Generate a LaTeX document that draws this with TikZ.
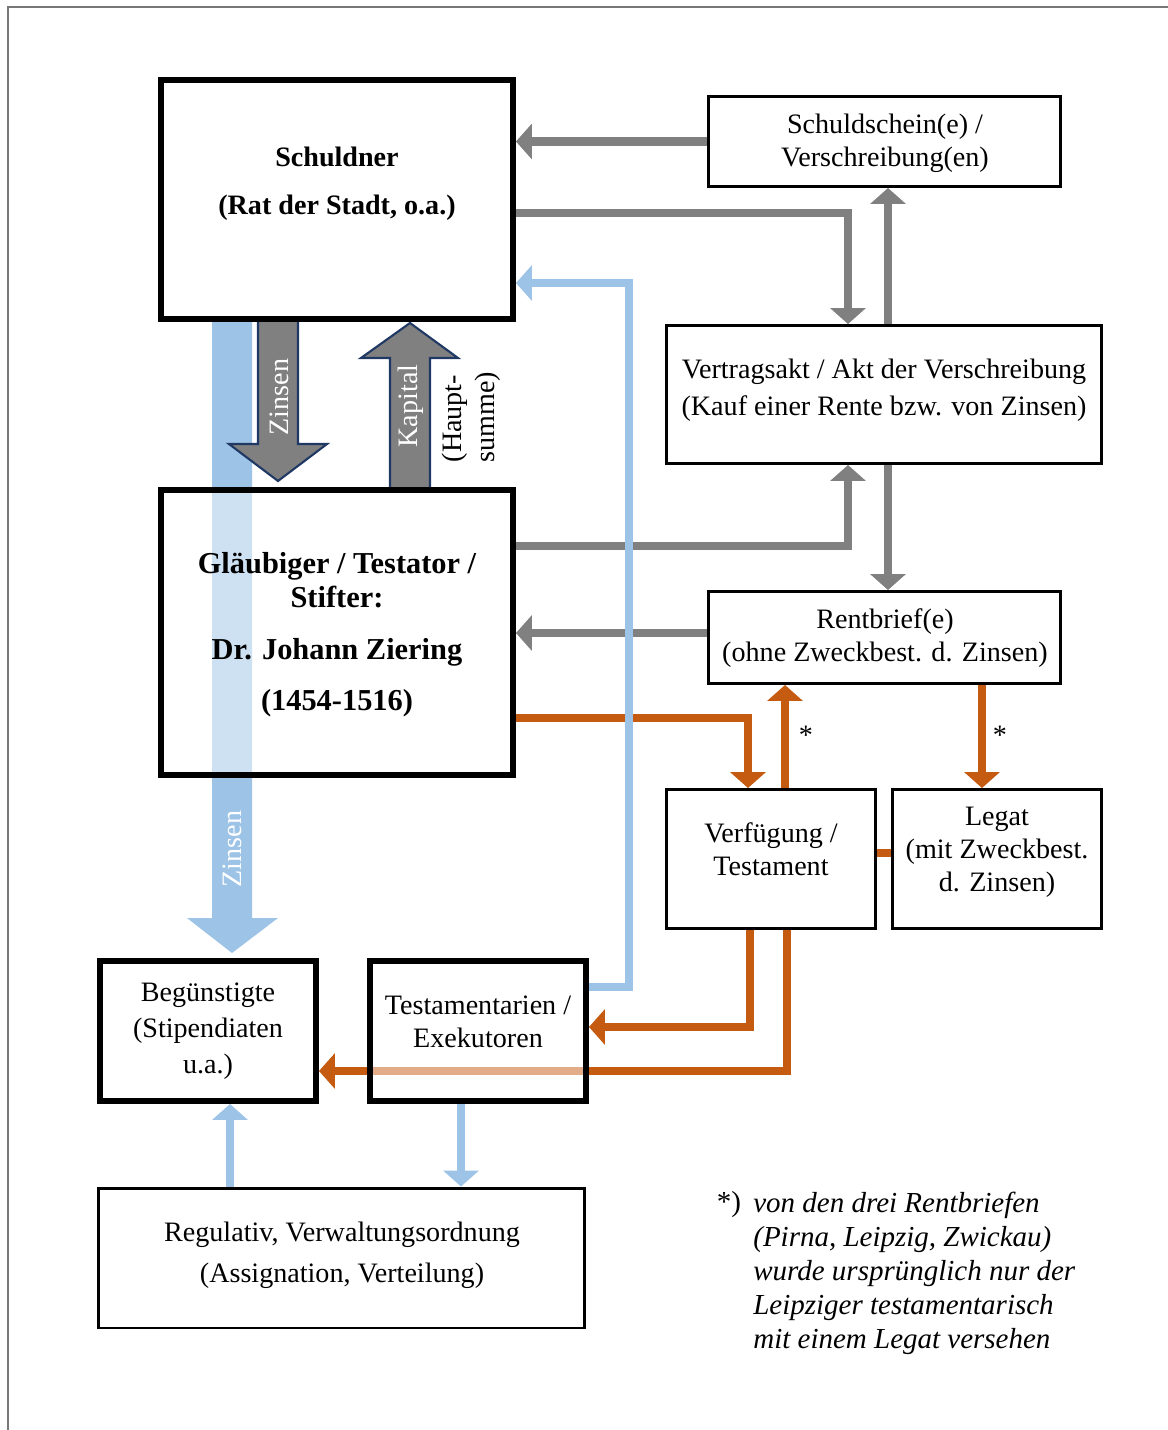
\documentclass[tikz,border=0pt]{standalone}
\usepackage{fontspec}
\setmainfont{Liberation Serif}
\usepackage{tikz}
\usetikzlibrary{arrows.meta}
\usetikzlibrary{backgrounds}
\definecolor{flowgray}{RGB}{128,128,128}
\definecolor{flowblue}{RGB}{157,195,230}
\definecolor{floworange}{RGB}{197,90,17}
\definecolor{navy}{RGB}{31,56,100}
\definecolor{framegray}{RGB}{120,120,120}
\tikzset{box/.style = {draw, line width=1.7pt, inner sep=0, fill=white, fill opacity=0.5}}
\tikzset{bigbox/.style = {box, line width=3.4pt}}
\tikzset{txt/.style = {align=center, inner sep=0, font=\fontsize{16}{18.7}\selectfont}}
\tikzset{flow/.style = {line width=5.1pt, -{Triangle[width=0.7cm, length=0.32cm]}}}
\tikzset{grayflow/.style = {flow, flowgray}}
\tikzset{orangeflow/.style = {flow, floworange}}
\tikzset{blueflow/.style = {flow, flowblue}}
\tikzset{bigarrow/.style = {fill=flowgray, draw=navy, line width=1.2pt}}

\begin{document}
\begin{tikzpicture}[x=0.02cm, y=-0.02cm]
    \useasboundingbox (0, 0) rectangle (1168, 1430);
    \draw [framegray, line width=0.9pt] (8, 1430) -- (8, 7) -- (1168, 7);

    \node [bigbox, minimum width=7.04cm, minimum height=4.78cm] (schuldner) at (337, 199.5) {};
    \node [box, minimum width=7.04cm, minimum height=1.8cm] (schein) at (884.5, 141.5) {};
    \node [box, minimum width=8.7cm, minimum height=2.76cm] (vertrag) at (884, 394.5) {};
    \node [bigbox, minimum width=7.04cm, minimum height=5.7cm] (glaeubiger) at (337, 632.5) {};
    \node [box, minimum width=7.04cm, minimum height=1.84cm] (rentbrief) at (884.5, 637.5) {};
    \node [box, minimum width=4.18cm, minimum height=2.78cm] (verfuegung) at (771, 859) {};
    \node [box, minimum width=4.18cm, minimum height=2.78cm] (legat) at (997, 859) {};
    \node [bigbox, minimum width=4.32cm, minimum height=2.8cm] (beguenstigte) at (208, 1031) {};
    \node [bigbox, minimum width=4.32cm, minimum height=2.8cm] (testament) at (478, 1031) {};
    \node [box, minimum width=9.72cm, minimum height=2.8cm] (regulativ) at (341.5, 1258) {};

    \node [txt, font=\bfseries\fontsize{16}{27.2}\selectfont] (schuldner-t) at (337, 184) {Schuldner\\(Rat der Stadt, o.a.)};
    \node [txt] (schein-t) at (885, 143) {Schuldschein(e) /\\Verschreibung(en)};
    \node [txt, font=\fontsize{16}{21}\selectfont] (vertrag-t) at (884, 390.5) {Vertragsakt / Akt der Verschreibung\\(Kauf einer Rente bzw. von Zinsen)};
    \node [txt, font=\bfseries\fontsize{17.3}{19.9}\selectfont] (glaeubiger-t) at (337, 634.5) {Gläubiger / Testator /\\Stifter:\\[9.6pt]Dr. Johann Ziering\\[9pt](1454-1516)};
    \node [txt] (rentbrief-t) at (885, 638) {Rentbrief(e)\\(ohne Zweckbest. d. Zinsen)};
    \node [txt] (verfuegung-t) at (771, 849.5) {Verfügung /\\Testament};
    \node [txt] (legat-t) at (997, 852.5) {Legat\\(mit Zweckbest.\\d. Zinsen)};
    \node [txt, font=\fontsize{16}{20.5}\selectfont] (beguenstigte-t) at (208, 1031) {Begünstigte\\(Stipendiaten\\u.a.)};
    \node [txt] (testament-t) at (478, 1022) {Testamentarien /\\Exekutoren};
    \node [txt, font=\fontsize{16}{23.3}\selectfont] (regulativ-t) at (342, 1255.5) {Regulativ, Verwaltungsordnung\\(Assignation, Verteilung)};

    \begin{scope}[on background layer]
        \fill [flowblue] (212, 322) -- (252, 322) -- (252, 918) -- (278, 918) -- (232, 953) -- (187, 918) -- (212, 918) -- cycle;
        \draw [bigarrow] (258, 320) -- (298, 320) -- (298, 444) -- (327, 444) -- (278, 481) -- (229, 444) -- (258, 444) -- cycle;
        \draw [bigarrow] (390, 489) -- (390, 358) -- (361, 358) -- (410, 323) -- (458, 358) -- (430, 358) -- (430, 489) -- cycle;

        \draw [grayflow] (schein.west) -- (schein.west -| schuldner.east);
        \draw [grayflow] (schuldner.east |- 0, 213) -| (vertrag.north -| 848, 0);
        \draw [grayflow] (vertrag.north -| 888, 0) -- (schein.south -| 888, 0);
        \draw [grayflow] (glaeubiger.east |- 0, 546) -| (vertrag.south -| 848, 0);
        \draw [grayflow] (vertrag.south -| 888, 0) -- (rentbrief.north -| 888, 0);
        \draw [grayflow] (rentbrief.west |- 0, 633) -- (glaeubiger.east |- 0, 633);

        \draw [orangeflow] (glaeubiger.east |- 0, 718) -| (verfuegung.north -| 748, 0);
        \draw [orangeflow] (verfuegung.north -| 785, 0) -- (rentbrief.south -| 785, 0);
        \draw [orangeflow] (rentbrief.south -| 982, 0) -- (legat.north -| 982, 0);
        \draw [floworange, line width=5.1pt] (verfuegung.east |- 0, 853) -- (legat.west |- 0, 853);
        \draw [orangeflow] (verfuegung.south -| 750, 0) |- (testament.east |- 0, 1027);
        \draw [orangeflow] (verfuegung.south -| 787, 0) |- (beguenstigte.east |- 0, 1071);

        \draw [blueflow] (testament.east |- 0, 987) -| (629, 283) -- (schuldner.east |- 0, 283);
        \draw [blueflow] (regulativ.north -| 230, 0) -- (beguenstigte.south -| 230, 0);
        \draw [blueflow] (testament.south -| 461, 0) -- (regulativ.north -| 461, 0);
    \end{scope}

    \node [txt, white, rotate=90] (zinsen-oben) at (279, 397) {Zinsen};
    \node [txt, white, rotate=90] (kapital) at (411, 406) {Kapital};
    \node [txt, rotate=90, align=left] (hauptsumme) at (471, 417) {(Haupt-\\summe)};
    \node [txt, white, rotate=90] (zinsen-unten) at (232, 849) {Zinsen};
    \node [txt] (stern-a) at (806, 735) {*};
    \node [txt] (stern-b) at (1000, 735) {*};

    \node [txt, font=\itshape\fontsize{16.5}{19.3}\selectfont, align=left, anchor=north west] (fussnote) at (753, 1192) {von den drei Rentbriefen\\(Pirna, Leipzig, Zwickau)\\wurde ursprünglich nur der\\Leipziger testamentarisch\\mit einem Legat versehen};
    \node [txt, font=\fontsize{16.5}{19.3}\selectfont] (fussnote-stern) at (729, 1205) {*)};
\end{tikzpicture}
\end{document}
